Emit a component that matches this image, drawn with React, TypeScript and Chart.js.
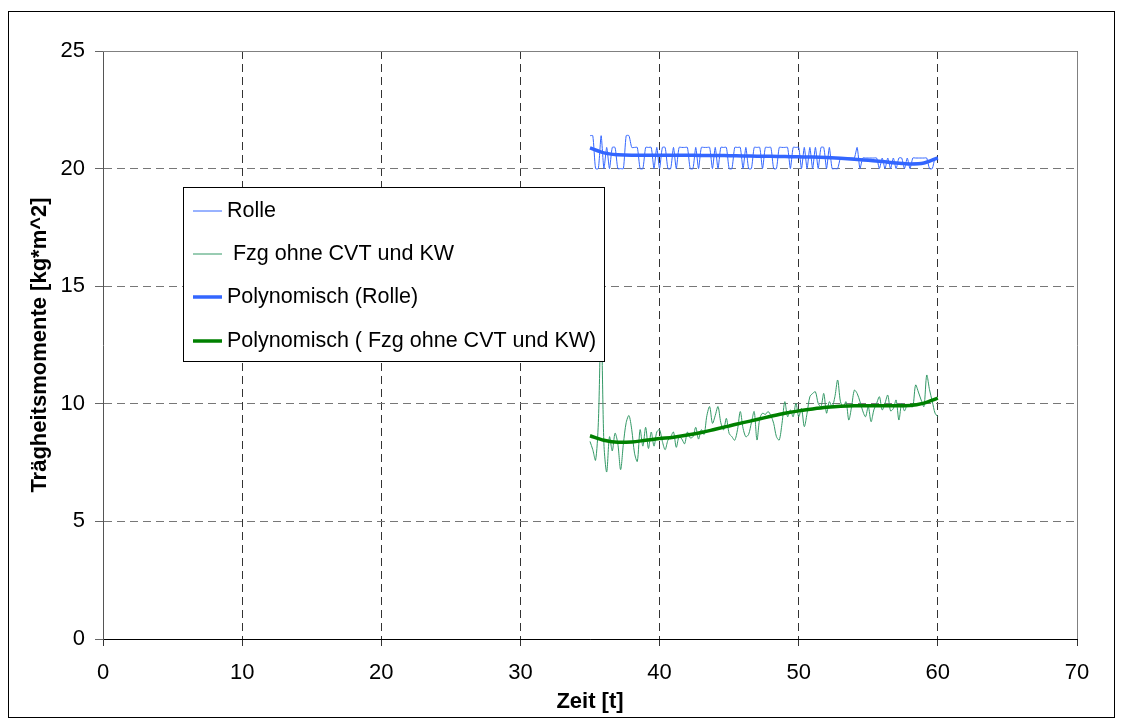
import React, { useEffect, useRef } from "react";
import { Chart, registerables } from "chart.js";

Chart.register(...registerables);

// ---- data ----
const SAMPLE_START = 35; // s
const SAMPLE_STEP = 0.2; // s

const rolle = [
  21.4, 21.4, 20.0, 20.0, 21.4, 20.0, 20.9, 20.0, 20.9, 20.9,
  20.0, 20.0, 20.0, 21.4, 21.4, 20.9, 20.9, 20.9, 20.0, 20.0,
  20.9, 20.9, 20.9, 20.0, 20.9, 20.0, 20.9, 20.9, 20.0, 20.0,
  20.9, 20.0, 20.9, 20.9, 20.9, 20.9, 20.0, 20.0, 20.9, 20.0,
  20.9, 20.9, 20.9, 20.9, 20.0, 20.9, 20.0, 20.9, 20.9, 20.9,
  20.0, 20.0, 20.9, 20.9, 20.9, 20.0, 20.9, 20.0, 20.0, 20.9,
  20.9, 20.9, 20.0, 20.9, 20.9, 20.9, 20.0, 20.0, 20.9, 20.9,
  20.9, 20.9, 20.0, 20.9, 20.9, 20.9, 20.0, 20.9, 20.0, 20.9,
  20.0, 20.9, 20.0, 20.9, 20.9, 20.0, 20.9, 20.0, 20.0, 20.0,
  20.45, 20.45, 20.45, 20.45, 20.45, 20.45, 20.9, 20.0, 20.45, 20.45,
  20.45, 20.45, 20.45, 20.45, 20.0, 20.45, 20.0, 20.45, 20.0, 20.45,
  20.0, 20.45, 20.45, 20.0, 20.45, 20.0, 20.45, 20.45, 20.45, 20.45,
  20.45, 20.45, 20.0, 20.0, 20.45, 20.45,
];

const fzg = [
  8.4, 8.05, 7.6, 9.2, 13.5, 8.3, 7.1, 8.6, 8.0, 8.75,
  8.3, 7.2, 8.3, 9.2, 9.5, 8.9, 7.9, 7.55, 8.9, 8.2,
  9.0, 8.1, 8.8, 8.2, 8.8, 8.9, 8.4, 8.05, 8.45, 8.6,
  8.8, 8.15, 8.6, 8.5, 8.3, 8.8, 8.55, 8.6, 9.0, 8.5,
  8.9, 8.7, 9.5, 9.88, 9.17, 9.5, 9.88, 9.2, 8.89, 9.38,
  8.74, 8.6, 8.45, 8.9, 9.67, 8.96, 8.6, 8.7, 9.2, 9.67,
  8.46, 9.38, 9.6, 9.55, 9.67, 9.5, 9.17, 8.6, 8.46, 9.17,
  10.09, 9.45, 9.74, 9.45, 10.02, 9.45, 9.8, 9.03, 9.6, 10.3,
  10.44, 10.51, 10.02, 9.88, 10.44, 9.6, 10.09, 9.88, 10.3, 11.01,
  10.09, 9.88, 10.09, 9.31, 9.88, 10.58, 10.44, 10.1, 9.7, 9.45,
  9.88, 9.24, 9.74, 10.02, 10.3, 9.74, 10.02, 10.37, 9.7, 9.8,
  10.16, 9.31, 10.02, 9.7, 9.95, 9.9, 9.88, 10.8, 10.5, 10.16,
  9.88, 11.22, 10.6, 10.1, 9.6, 9.45,
];

const trendTimes = [
  35, 36, 37, 38, 39, 40, 41, 42, 43, 44, 45, 46, 47, 48, 49, 50,
  51, 52, 53, 54, 55, 56, 57, 58, 59, 60,
];
const rolleTrend = [
  20.88, 20.67, 20.59, 20.57, 20.57, 20.57, 20.57, 20.57, 20.56, 20.56,
  20.55, 20.54, 20.53, 20.52, 20.51, 20.5, 20.49, 20.47, 20.44, 20.4,
  20.35, 20.3, 20.24, 20.2, 20.24, 20.46,
];
const fzgTrend = [
  8.64, 8.45, 8.37, 8.38, 8.45, 8.52, 8.58, 8.67, 8.78, 8.92,
  9.06, 9.2, 9.33, 9.47, 9.6, 9.7, 9.78, 9.85, 9.9, 9.92,
  9.92, 9.92, 9.92, 9.93, 10.03, 10.24,
];

const labels = [
  "Rolle",
  " Fzg ohne CVT und KW",
  "Polynomisch (Rolle)",
  "Polynomisch ( Fzg ohne CVT und KW)",
];
const xTitle = "Zeit [t]";
const yTitle = "Trägheitsmomente [kg*m^2]";
const xMin = 0, xMax = 70, xStep = 10;
const yMin = 0, yMax = 25, yStep = 5;

// ---- styles ----
const FONT = "'Liberation Sans', Arial, sans-serif";
const BLUE = "#3366FF";
const GREEN_THIN = "#339966";
const GREEN_THICK = "#008000";

const toPoints = (vals: number[]) =>
  vals.map((v, i) => ({ x: +(SAMPLE_START + i * SAMPLE_STEP).toFixed(2), y: v }));
const toTrend = (vals: number[]) => vals.map((v, i) => ({ x: trendTimes[i], y: v }));

const framePlugin = {
  id: "frame",
  beforeDraw(chart: any) {
    const { ctx, width, height } = chart;
    ctx.save();
    ctx.fillStyle = "#fff";
    ctx.fillRect(0, 0, width, height);
    ctx.strokeStyle = "#000";
    ctx.lineWidth = 1;
    ctx.strokeRect(8.5, 11.5, 1106, 706);
    ctx.restore();
  },
  beforeDatasetsDraw(chart: any) {
    const { ctx, chartArea } = chart;
    ctx.save();
    ctx.strokeStyle = "#808080";
    ctx.lineWidth = 1;
    ctx.beginPath();
    const t = Math.round(chartArea.top) + 0.5;
    const r = Math.round(chartArea.right) + 0.5;
    ctx.moveTo(chartArea.left, t);
    ctx.lineTo(r, t);
    ctx.lineTo(r, chartArea.bottom);
    ctx.stroke();
    ctx.restore();
  },
};

const legendPlugin = {
  id: "boxLegend",
  afterDraw(chart: any) {
    const { ctx } = chart;
    const bx = 183.5, by = 187.5, bw = 421, bh = 174;
    ctx.save();
    ctx.fillStyle = "#fff";
    ctx.fillRect(bx, by, bw, bh);
    ctx.strokeStyle = "#000";
    ctx.lineWidth = 1;
    ctx.strokeRect(bx, by, bw, bh);
    const rowY = [211, 254, 297, 341];
    chart.data.datasets.forEach((ds: any, i: number) => {
      const y = rowY[i];
      ctx.strokeStyle = ds.borderColor;
      ctx.lineWidth = ds.borderWidth;
      ctx.beginPath();
      ctx.moveTo(193, y);
      ctx.lineTo(222, y);
      ctx.stroke();
      ctx.fillStyle = "#000";
      ctx.font = `21.5px ${FONT}`;
      ctx.textBaseline = "middle";
      ctx.textAlign = "left";
      ctx.fillText(ds.label, 227, y);
    });
    ctx.restore();
  },
};

export default function App() {
  const ref = useRef<HTMLCanvasElement | null>(null);

  useEffect(() => {
    if (!ref.current) return;
    const chart = new Chart(ref.current, {
      type: "line",
      data: {
        datasets: [
          {
            label: labels[0],
            data: toPoints(rolle),
            borderColor: BLUE,
            backgroundColor: BLUE,
            borderWidth: 1,
            pointRadius: 0,
            tension: 0.2,
            order: 1,
          },
          {
            label: labels[1],
            data: toPoints(fzg),
            borderColor: GREEN_THIN,
            backgroundColor: GREEN_THIN,
            borderWidth: 1,
            pointRadius: 0,
            tension: 0.3,
            order: 1,
          },
          {
            label: labels[2],
            data: toTrend(rolleTrend),
            borderColor: BLUE,
            backgroundColor: BLUE,
            borderWidth: 3.5,
            pointRadius: 0,
            cubicInterpolationMode: "monotone",
            order: 0,
          },
          {
            label: labels[3],
            data: toTrend(fzgTrend),
            borderColor: GREEN_THICK,
            backgroundColor: GREEN_THICK,
            borderWidth: 3.5,
            pointRadius: 0,
            cubicInterpolationMode: "monotone",
            order: 0,
          },
        ],
      },
      options: {
        animation: false,
        responsive: false,
        maintainAspectRatio: false,
        layout: { padding: { left: 0, top: 51, right: 46, bottom: 0 } },
        plugins: { legend: { display: false }, tooltip: { enabled: false } },
        scales: {
          x: {
            type: "linear",
            min: xMin,
            max: xMax,
            afterFit: (s: any) => { s.height = 85; },
            ticks: {
              stepSize: xStep,
              color: "#000",
              font: { family: FONT, size: 22 },
              padding: 14,
              maxRotation: 0,
            },
            grid: {
              color: "#333",
              lineWidth: 1,
              tickLength: 7,
              tickColor: "#333",
              tickBorderDash: [],
            },
            border: { color: "#000", width: 1, dash: [8, 5] },
            title: {
              display: true,
              text: xTitle,
              color: "#000",
              font: { family: FONT, size: 22, weight: "bold" },
              padding: { top: 0, bottom: 9 },
            },
          },
          y: {
            min: yMin,
            max: yMax,
            afterFit: (s: any) => { s.width = 103; },
            ticks: {
              stepSize: yStep,
              color: "#000",
              font: { family: FONT, size: 22 },
              padding: 10,
            },
            grid: {
              color: "#777",
              lineWidth: 1,
              tickLength: 8,
              tickColor: "#666",
              tickBorderDash: [],
            },
            border: { color: "#555", width: 1, dash: [8, 5] },
            title: {
              display: true,
              text: yTitle,
              color: "#000",
              font: { family: FONT, size: 22, weight: "bold" },
              padding: { top: 27, bottom: 0 },
            },
          },
        },
      },
      plugins: [framePlugin, legendPlugin],
    } as any);
    return () => chart.destroy();
  }, []);

  return (
    <div style={{ position: "absolute", left: 0, top: 0, width: 1123, height: 724 }}>
      <canvas ref={ref} width={1123} height={724} style={{ width: 1123, height: 724, display: "block" }} />
    </div>
  );
}
